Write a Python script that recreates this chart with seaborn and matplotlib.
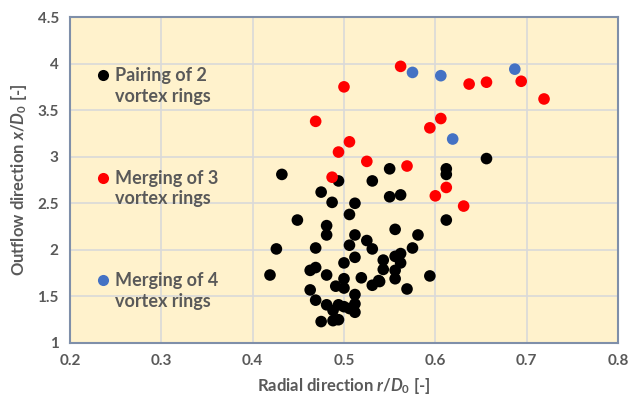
import pandas as pd
import matplotlib
matplotlib.use("Agg")
import matplotlib.pyplot as plt
import seaborn as sns
from matplotlib.lines import Line2D

# Pairing of 2 vortex rings (black)
pair_r = [0.656, 0.550, 0.612, 0.612, 0.550, 0.562, 0.612, 0.556, 0.581, 0.575,
          0.556, 0.562, 0.543, 0.562, 0.543, 0.556, 0.556, 0.539, 0.594, 0.569,
          0.432, 0.494, 0.531, 0.475, 0.487, 0.512, 0.506, 0.449, 0.481, 0.481,
          0.512, 0.525, 0.426, 0.469, 0.506, 0.531, 0.512, 0.500, 0.463, 0.469,
          0.481, 0.419, 0.500, 0.500, 0.519, 0.531, 0.538, 0.491, 0.463, 0.469,
          0.512, 0.512, 0.512, 0.481, 0.494, 0.488, 0.500, 0.506, 0.475, 0.488,
          0.494]
pair_x = [2.98, 2.87, 2.87, 2.81, 2.57, 2.59, 2.32, 2.22, 2.16, 2.02,
          1.93, 1.96, 1.89, 1.86, 1.79, 1.78, 1.69, 1.66, 1.72, 1.58,
          2.81, 2.74, 2.74, 2.62, 2.51, 2.50, 2.38, 2.32, 2.26, 2.16,
          2.16, 2.10, 2.01, 2.02, 2.05, 2.01, 1.92, 1.86, 1.78, 1.81,
          1.73, 1.73, 1.69, 1.59, 1.70, 1.62, 1.67, 1.61, 1.57, 1.46,
          1.52, 1.42, 1.33, 1.41, 1.41, 1.35, 1.39, 1.37, 1.23, 1.24,
          1.25]

# Merging of 3 vortex rings (red)
merge3_r = [0.562, 0.637, 0.656, 0.694, 0.719, 0.606, 0.594, 0.569, 0.612,
            0.600, 0.631, 0.494, 0.525, 0.487, 0.469, 0.500, 0.506]
merge3_x = [3.97, 3.78, 3.80, 3.81, 3.62, 3.41, 3.31, 2.90, 2.67,
            2.58, 2.47, 3.05, 2.95, 2.78, 3.38, 3.75, 3.16]

# Merging of 4 vortex rings (blue)
merge4_r = [0.575, 0.606, 0.687, 0.619]
merge4_x = [3.905, 3.87, 3.94, 3.19]

labels = ["Pairing of 2\nvortex rings", "Merging of 3\nvortex rings", "Merging of 4\nvortex rings"]
colors = ["#000000", "#FF0000", "#4472C4"]

df = pd.concat([
    pd.DataFrame({"r": pair_r, "x": pair_x, "case": labels[0]}),
    pd.DataFrame({"r": merge3_r, "x": merge3_x, "case": labels[1]}),
    pd.DataFrame({"r": merge4_r, "x": merge4_x, "case": labels[2]}),
])

sns.set_style("white")
plt.rcParams["font.family"] = ["Lato", "DejaVu Sans"]
plt.rcParams["mathtext.fontset"] = "custom"
plt.rcParams["mathtext.rm"] = "Lato:bold"
plt.rcParams["mathtext.it"] = "Lato:bold:italic"

grey = "#595959"
fig = plt.figure(figsize=(6.3, 4.0), dpi=100)
ax = fig.add_axes([0.111, 0.1425, 0.870, 0.815])
ax.set_facecolor("#FFF2CC")

sns.scatterplot(data=df, x="r", y="x", hue="case", palette=colors,
                s=70, edgecolor="none", legend=False, ax=ax, zorder=3)

ax.set_xlim(0.2, 0.8)
ax.set_ylim(1, 4.5)
ax.set_xticks([0.2, 0.3, 0.4, 0.5, 0.6, 0.7, 0.8])
ax.set_xticklabels(["0.2", "0.3", "0.4", "0.5", "0.6", "0.7", "0.8"])
ax.set_yticks([1, 1.5, 2, 2.5, 3, 3.5, 4, 4.5])
ax.set_yticklabels(["1", "1.5", "2", "2.5", "3", "3.5", "4", "4.5"])
ax.grid(True, color="#D9D9D9", linewidth=1.2, zorder=0)
ax.set_axisbelow(True)
ax.tick_params(length=0, pad=8, labelsize=11, labelcolor=grey)
for t in ax.get_xticklabels() + ax.get_yticklabels():
    t.set_fontweight("bold")
for sp in ax.spines.values():
    sp.set_color("#7F8FA9")
    sp.set_linewidth(1.5)

ax.set_xlabel("Radial direction $r/D_0$ [-]", fontsize=12, fontweight="bold", color=grey, labelpad=6)
ax.set_ylabel("Outflow direction $x/D_0$ [-]", fontsize=12, fontweight="bold", color=grey, labelpad=6)

handles = [Line2D([], [], marker="o", linestyle="none", markersize=8,
                  markerfacecolor=c, markeredgecolor="none") for c in colors]
leg = ax.legend(handles, labels, loc="upper left", bbox_to_anchor=(0.015, 0.895),
                frameon=False, handletextpad=0.15, labelspacing=3.6,
                handlelength=1.0, prop={"weight": "bold", "size": 13})
for t in leg.get_texts():
    t.set_color(grey)
    t.set_linespacing(1.25)
# put the marker next to the first line of each label
for h in leg.legend_handles:
    h.set_ydata([y + 8.5 for y in h.get_ydata()])

fig.savefig("out.png", dpi=100)
